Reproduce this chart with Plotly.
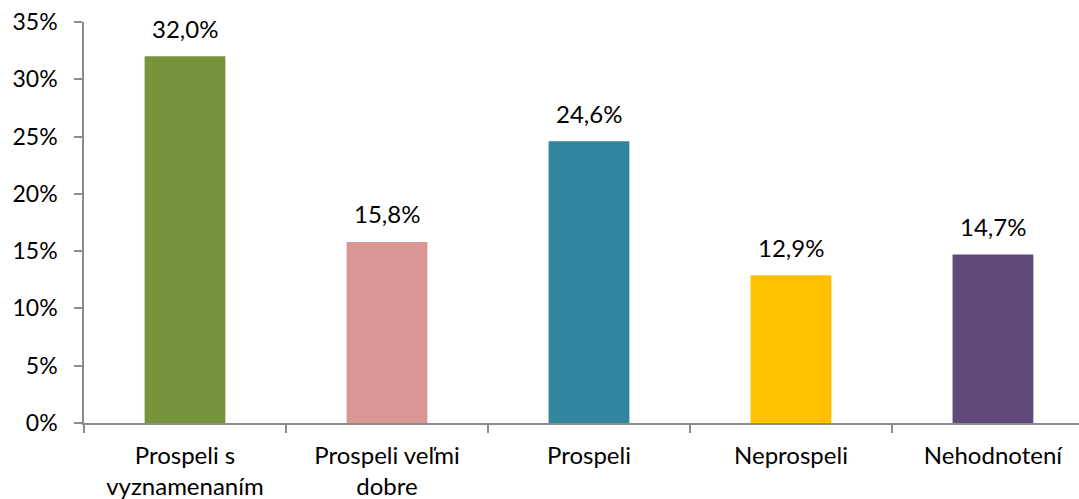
import plotly.graph_objects as go

categories = ["Prospeli s<br>vyznamenaním", "Prospeli veľmi<br>dobre", "Prospeli", "Neprospeli", "Nehodnotení"]
values = [32.0, 15.8, 24.6, 12.9, 14.7]
colors = ["#77933C", "#D99694", "#31859C", "#FFC000", "#604A7B"]
labels = [f"{v:.1f}".replace(".", ",") + "%" for v in values]

FONT = "Lato"
fig = go.Figure()
fig.add_trace(go.Bar(x=categories, y=values, marker=dict(color=colors, line=dict(width=0)),
                     width=0.4, showlegend=False, hoverinfo="skip"))

for c, v, t in zip(categories, values, labels):
    fig.add_annotation(x=c, y=v, text=t, showarrow=False, yanchor="middle", yshift=28,
                       font=dict(family=FONT, size=24, color="#000000"))

axis_color = "#8C8C8C"
fig.update_layout(
    width=1079, height=499,
    margin=dict(l=84, r=0, t=22, b=76),
    paper_bgcolor="white", plot_bgcolor="white",
    font=dict(family=FONT, size=24, color="#000000"),
    bargap=0.6,
    xaxis=dict(
        type="category", range=[-0.5, 4.426], automargin=False,
        showline=True, linecolor=axis_color, linewidth=1.5,
        ticks="outside", tickson="boundaries", ticklen=8, tickcolor=axis_color, tickwidth=1.5,
        showgrid=False, zeroline=False,
        tickfont=dict(family=FONT, size=24, color="#000000"),
        ticklabelstandoff=10,
    ),
    yaxis=dict(
        range=[0, 35], dtick=5, ticksuffix="%", automargin=False,
        showline=True, linecolor=axis_color, linewidth=1.5,
        ticks="outside", ticklen=8, tickcolor=axis_color, tickwidth=1.5,
        showgrid=False, zeroline=False,
        tickfont=dict(family=FONT, size=23, color="#000000"),
        ticklabelstandoff=12,
    ),
)

fig.write_html("out.html", config={"displayModeBar": False},
               post_script="document.body.style.margin='0';")
